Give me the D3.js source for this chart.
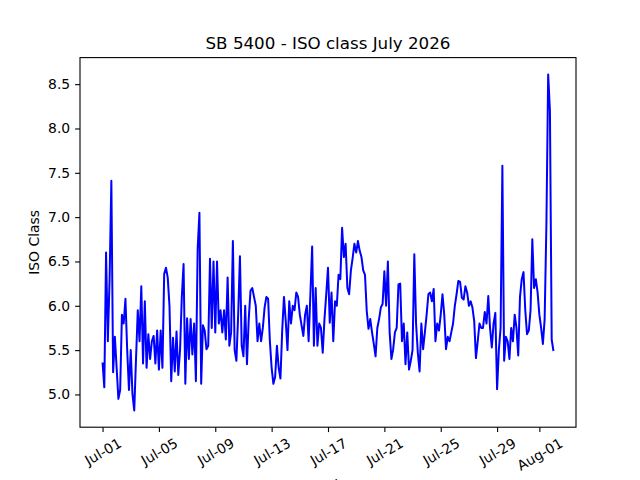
<!DOCTYPE html>
<html>
<head>
<meta charset="utf-8">
<script src="https://cdn.jsdelivr.net/npm/d3@7"></script>
<style>
  body { margin: 0; background: #fff; }
  svg { display: block; font-family: "DejaVu Sans", sans-serif; }
</style>
</head>
<body>
<div id="chart"></div>
<script>
// readings every 3 hours, starting Jul-01 00:00
const startTime = "2026-07-01T00:00";
const stepHours = 3;
const isoValues = [
  5.36, 5.08, 6.60, 5.60, 6.30, 7.41, 5.25, 5.65,
  5.30, 4.95, 5.05, 5.90, 5.80, 6.08, 5.50, 5.05,
  5.50, 5.00, 4.82, 5.40, 5.95, 5.60, 6.22, 5.35,
  6.05, 5.30, 5.68, 5.40, 5.60, 5.66, 5.35, 5.72,
  5.28, 5.72, 5.30, 6.36, 6.43, 6.32, 6.00, 5.15,
  5.64, 5.26, 5.71, 5.22, 5.50, 6.10, 6.47, 5.12,
  5.86, 5.40, 5.85, 5.45, 5.80, 5.15, 6.64, 7.05,
  5.12, 5.78, 5.72, 5.51, 5.55, 6.53, 5.75, 6.50,
  5.70, 6.50, 5.80, 5.95, 5.70, 5.95, 5.62, 6.32,
  5.55, 5.70, 6.73, 5.50, 5.38, 5.90, 6.56, 5.55,
  5.43, 6.00, 5.34, 5.85, 6.17, 6.20, 6.10, 6.00,
  5.60, 5.80, 5.60, 5.75, 5.98, 6.10, 6.08, 5.60,
  5.30, 5.12, 5.20, 5.55, 5.30, 5.18, 5.72, 6.10,
  5.83, 5.50, 6.05, 5.80, 6.00, 5.95, 6.15, 6.10,
  5.90, 5.78, 5.66, 5.90, 6.00, 5.60, 6.13, 6.67,
  5.55, 6.20, 5.55, 5.80, 5.75, 5.47, 5.85, 6.13,
  6.43, 5.81, 6.15, 5.60, 6.05, 6.00, 6.35, 6.30,
  6.88, 6.55, 6.70, 6.20, 6.13, 6.40, 6.54, 6.70,
  6.60, 6.73, 6.62, 6.55, 6.40, 6.35, 5.94, 5.74,
  5.85, 5.70, 5.57, 5.43, 5.75, 5.85, 5.98, 6.02,
  6.39, 6.00, 6.50, 5.70, 5.40, 5.51, 5.70, 5.75,
  6.24, 6.25, 5.60, 5.80, 5.34, 5.70, 5.28, 5.38,
  5.50, 6.58, 5.80, 5.47, 5.26, 5.80, 5.51, 5.70,
  5.90, 6.13, 6.15, 6.05, 6.19, 5.60, 5.80, 5.72,
  5.90, 6.13, 5.90, 5.51, 5.65, 5.60, 5.70, 5.80,
  6.00, 6.13, 6.28, 6.27, 6.09, 6.07, 6.22, 6.15,
  6.00, 6.05, 5.98, 5.83, 5.41, 5.60, 5.80, 5.75,
  5.75, 5.93, 5.80, 6.11, 5.75, 5.53, 5.80, 5.92,
  5.06, 5.50, 5.75, 7.58, 5.38, 5.65, 5.60, 5.40,
  5.75, 5.60, 5.90, 5.75, 5.44, 6.10, 6.30, 6.38,
  5.95, 5.68, 5.72, 5.95, 6.75, 6.20, 6.30, 6.15,
  5.90, 5.75, 5.57, 5.85, 6.92, 8.61, 8.20, 5.62, 5.49
];
const xTickDates = ["2026-07-01", "2026-07-05", "2026-07-09", "2026-07-13", "2026-07-17",
                    "2026-07-21", "2026-07-25", "2026-07-29", "2026-08-01"];
const yTicks = [5.0, 5.5, 6.0, 6.5, 7.0, 7.5, 8.0, 8.5];

const width = 640, height = 480;
const margin = {top: 57.6, right: 64, bottom: 52.8, left: 80};
const innerW = width - margin.left - margin.right;
const innerH = height - margin.top - margin.bottom;

const t0 = d3.utcParse("%Y-%m-%dT%H:%M")(startTime);
const data = isoValues.map((v, i) => ({t: d3.utcHour.offset(t0, i * stepHours), v: v}));

// matplotlib style 5% padding around the data
function padded(ext) {
  let a = +ext[0], b = +ext[1], p = (b - a) * 0.05;
  return [a - p, b + p];
}
let xd = padded(d3.extent(data, d => d.t));
let x = d3.scaleUtc().domain([new Date(xd[0]), new Date(xd[1])]).range([0, innerW]);
let y = d3.scaleLinear().domain(padded(d3.extent(data, d => d.v))).range([innerH, 0]);

let svg = d3.select("#chart").append("svg")
    .attr("width", width)
    .attr("height", height);

let g = svg.append("g").attr("transform", "translate(" + margin.left + "," + margin.top + ")");

// line
g.append("path")
    .datum(data)
    .attr("fill", "none")
    .attr("stroke", "#0000ff")
    .attr("stroke-width", 2)
    .attr("stroke-linejoin", "round")
    .attr("d", d3.line().x(d => x(d.t)).y(d => y(d.v)));

// y axis
let yAxis = g.append("g")
    .call(d3.axisLeft(y).tickValues(yTicks).tickFormat(d3.format(".1f")).tickSize(4.9).tickPadding(4.9));
yAxis.select(".domain").remove();
yAxis.selectAll("line").attr("stroke", "#000").attr("stroke-width", 1.1);
yAxis.selectAll("text").attr("font-size", 13.9).attr("fill", "#000")
    .attr("font-family", "DejaVu Sans");

// x axis
let tickDates = xTickDates.map(d3.utcParse("%Y-%m-%d"));
let xAxis = g.append("g")
    .attr("transform", "translate(0," + innerH + ")")
    .call(d3.axisBottom(x).tickValues(tickDates).tickFormat(d3.utcFormat("%b-%d")).tickSize(4.9));
xAxis.select(".domain").remove();
xAxis.selectAll("line").attr("stroke", "#000").attr("stroke-width", 1.1);
xAxis.selectAll("text")
    .attr("font-size", 13.9)
    .attr("fill", "#000")
    .attr("font-family", "DejaVu Sans")
    .attr("dy", null)
    .attr("text-anchor", "middle")
    .attr("dominant-baseline", "central")
    .each(function() {
      // centre of the rotated box sits below the tick, like matplotlib rotation=30
      let w = this.getComputedTextLength();
      let boxH = w * 0.5 + 14 * 0.866;
      d3.select(this).attr("y", null)
        .attr("transform", "translate(0," + (8.5 + boxH / 2) + ") rotate(-30)");
    });

// frame
g.append("rect")
    .attr("width", innerW)
    .attr("height", innerH)
    .attr("fill", "none")
    .attr("stroke", "#000")
    .attr("stroke-width", 1.1);

// title and labels
svg.append("text")
    .attr("x", margin.left + innerW / 2)
    .attr("y", margin.top - 8.3)
    .attr("text-anchor", "middle")
    .attr("font-size", 16.7)
    .text("SB 5400 - ISO class July 2026");

svg.append("text")
    .attr("transform", "translate(39," + (margin.top + innerH / 2) + ") rotate(-90)")
    .attr("text-anchor", "middle")
    .attr("font-size", 13.9)
    .text("ISO Class");

svg.append("text")
    .attr("x", margin.left + innerW / 2)
    .attr("y", 490)
    .attr("text-anchor", "middle")
    .attr("font-size", 13.9)
    .text("Datetime");
</script>
</body>
</html>
